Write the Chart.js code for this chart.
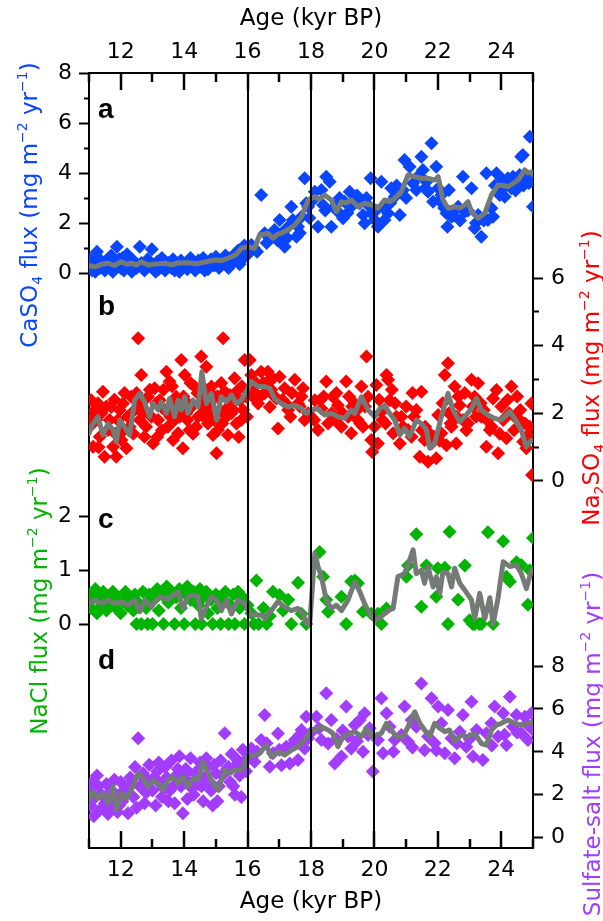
<!DOCTYPE html>
<html>
<head>
<meta charset="utf-8">
<script src="https://cdn.jsdelivr.net/npm/chart.js@4.4.1/dist/chart.umd.min.js"></script>
<style>
html,body{margin:0;padding:0;background:#fff;}
#wrap{width:603px;height:921px;}
</style>
</head>
<body>
<div id="wrap"><canvas id="c" width="603" height="921"></canvas></div>
<script>
// ---------------- data (age kyr BP, flux) ----------------
const ageTicks = [11,12,13,14,15,16,17,18,19,20,21,22,23,24,25];
const ageLabels = [12,14,16,18,20,22,24];
const eventAges = [16,18,20];

const caso4Ticks = [0,1,2,3,4,5,6,7,8];
const caso4Labels = [0,2,4,6,8];
const na2so4Ticks = [0,1,2,3,4,5,6];
const na2so4Labels = [0,2,4,6];
const naclTicks = [0,1,2];
const naclLabels = [0,1,2];
const sulfateTicks = [0,2,4,6,8];
const sulfateLabels = [0,2,4,6,8];

const caso4Flux = [[11.0,0.3],[11.05,0.55],[11.08,0.2],[11.1,0.1],[11.15,0.4],[11.2,0.05],[11.22,0.45],[11.25,0.85],[11.3,0.6],[11.35,0.2],[11.4,0.35],[11.45,0.3],[11.5,0.1],[11.55,0.5],[11.6,0.25],[11.65,0.45],[11.7,0.7],[11.75,0.05],[11.88,1.05],[11.9,0.4],[11.95,0.55],[12.0,0.2],[12.05,0.6],[12.1,0.1],[12.15,0.3],[12.2,0.75],[12.3,0.3],[12.35,0.05],[12.4,0.5],[12.45,0.35],[12.5,0.2],[12.6,1.05],[12.65,0.4],[12.7,0.25],[12.75,0.1],[12.85,0.55],[12.95,0.4],[12.98,0.95],[13.0,0.25],[13.1,0.05],[13.15,0.45],[13.2,0.15],[13.25,0.3],[13.3,0.6],[13.4,0.1],[13.45,0.3],[13.5,0.4],[13.6,0.2],[13.65,0.55],[13.7,0.1],[13.75,0.35],[13.85,0.05],[13.9,0.5],[13.95,0.2],[14.0,0.3],[14.1,0.15],[14.15,0.4],[14.2,0.6],[14.25,0.35],[14.35,0.1],[14.4,0.25],[14.45,0.5],[14.5,0.25],[14.6,0.6],[14.65,0.1],[14.7,0.4],[14.75,0.15],[14.85,0.55],[14.9,0.45],[14.95,0.3],[15.0,0.65],[15.1,0.2],[15.15,0.4],[15.2,0.5],[15.3,0.7],[15.35,0.3],[15.4,0.2],[15.45,0.6],[15.55,0.45],[15.6,0.75],[15.65,0.55],[15.7,0.9],[15.75,0.35],[15.8,0.5],[15.85,0.8],[15.9,1.1],[15.95,0.7],[16.0,0.9],
[16.05,0.8],[16.12,1.12],[16.2,1.0],[16.3,0.85],[16.43,3.12],[16.54,1.59],[16.6,1.2],[16.7,1.45],[16.85,1.72],[16.95,1.3],[17.01,2.12],[17.07,1.59],[17.17,1.05],[17.25,1.4],[17.28,1.85],[17.38,2.65],[17.43,2.12],[17.54,1.45],[17.59,1.85],[17.65,1.6],[17.7,2.25],[17.8,3.79],[17.85,2.79],[17.91,2.65],[17.95,2.2],[18.05,2.9],[18.12,3.25],[18.22,1.85],[18.33,3.32],[18.38,2.72],[18.45,2.5],[18.48,3.85],[18.59,3.65],[18.64,1.85],[18.75,2.65],[18.85,2.45],[18.9,3.0],[19.01,2.19],[19.06,2.85],[19.15,2.4],[19.22,3.25],[19.27,2.65],[19.38,2.92],[19.45,3.1],[19.54,2.79],[19.64,2.32],[19.69,1.99],[19.75,3.0],[19.8,2.72],[19.88,3.79],[19.9,2.39],[20.01,2.12],[20.05,2.5],[20.11,1.85],[20.22,3.65],[20.27,2.65],[20.32,2.12],[20.43,2.39],[20.5,2.8],[20.53,3.39],[20.64,3.05],[20.7,3.5],[20.8,2.32],[20.9,3.32],[20.95,4.52],[21.0,3.0],[21.11,4.25],[21.22,3.59],[21.32,3.32],[21.4,3.9],[21.48,4.65],[21.53,4.12],[21.6,3.4],[21.64,3.65],[21.69,3.25],[21.8,5.19],[21.85,2.85],[21.95,4.25],[22.01,3.39],[22.05,2.9],[22.11,3.12],[22.2,2.6],[22.27,2.39],[22.3,1.85],[22.35,3.32],[22.43,2.25],[22.5,2.3],[22.64,2.65],[22.7,2.1],[22.79,3.85],[22.85,2.45],[22.95,2.5],[23.06,3.39],[23.16,1.79],[23.2,2.0],[23.27,2.32],[23.37,1.45],[23.45,2.1],[23.53,3.99],[23.58,2.12],[23.69,2.59],[23.74,2.25],[23.8,3.5],[23.85,3.99],[23.95,3.12],[24.0,3.3],[24.06,3.72],[24.11,3.05],[24.21,3.79],[24.25,3.6],[24.32,3.39],[24.37,3.85],[24.45,3.3],[24.48,3.59],[24.58,3.92],[24.63,4.65],[24.68,4.72],[24.7,3.5],[24.74,3.72],[24.84,3.85],[24.87,3.6],[24.9,5.45],[24.95,3.79],[25.0,2.65]];

const caso4Mean = [[11.0,0.29],[11.2,0.25],[11.4,0.35],[11.6,0.39],[11.8,0.3],[12.02,0.45],[12.2,0.35],[12.33,0.39],[12.5,0.32],[12.65,0.45],[12.86,0.32],[13.1,0.36],[13.39,0.39],[13.6,0.33],[13.8,0.4],[14.12,0.41],[14.4,0.37],[14.7,0.45],[14.96,0.52],[15.2,0.5],[15.49,0.65],[15.65,0.75],[15.8,0.99],[16.01,1.05],[16.22,0.99],[16.38,1.52],[16.5,1.55],[16.64,1.59],[16.8,1.39],[16.95,1.55],[17.07,1.59],[17.3,1.75],[17.49,1.92],[17.7,2.25],[17.91,2.92],[18.12,3.05],[18.25,2.95],[18.43,3.12],[18.64,2.92],[18.8,2.45],[18.96,2.85],[19.1,2.8],[19.27,2.92],[19.48,2.65],[19.69,2.79],[19.9,2.72],[20.11,2.59],[20.32,2.92],[20.5,2.85],[20.64,2.99],[20.85,3.25],[21.06,3.92],[21.27,3.85],[21.48,3.79],[21.7,3.78],[21.9,3.72],[22.01,3.85],[22.16,2.92],[22.32,2.59],[22.53,2.65],[22.7,2.6],[22.85,2.72],[22.95,2.85],[23.06,2.45],[23.27,2.19],[23.48,2.39],[23.69,3.12],[23.9,3.52],[24.05,3.5],[24.21,3.45],[24.4,3.6],[24.53,3.72],[24.74,4.12],[24.85,4.0],[24.95,4.05],[25.0,3.95]];

const na2so4Flux = [[11.02,1.6],[11.07,2.39],[11.1,1.9],[11.13,1.01],[11.18,2.10],[11.23,1.80],[11.28,2.3],[11.3,1.0],[11.34,1.31],[11.39,2.00],[11.44,2.64],[11.49,0.72],[11.55,2.2],[11.60,1.51],[11.65,1.80],[11.70,2.19],[11.76,1.01],[11.8,2.4],[11.83,1.4],[11.86,0.72],[11.91,1.80],[11.97,2.10],[12.02,1.21],[12.07,2.29],[12.1,1.5],[12.12,2.6],[12.18,0.97],[12.22,1.9],[12.28,1.60],[12.33,2.49],[12.4,1.4],[12.44,2.10],[12.5,2.6],[12.55,4.22],[12.60,1.80],[12.62,2.3],[12.65,3.13],[12.70,2.00],[12.75,1.31],[12.8,1.6],[12.86,2.49],[12.92,2.7],[12.97,1.90],[13.02,1.11],[13.07,2.74],[13.12,2.3],[13.15,1.3],[13.18,1.80],[13.23,2.39],[13.28,2.19],[13.3,1.5],[13.35,2.7],[13.39,2.10],[13.44,3.23],[13.49,1.60],[13.54,2.94],[13.57,1.9],[13.60,2.24],[13.62,2.8],[13.65,1.21],[13.70,1.80],[13.75,2.49],[13.78,2.2],[13.81,1.41],[13.86,1.90],[13.91,3.58],[13.96,0.97],[13.98,2.5],[14.02,3.13],[14.07,2.00],[14.1,1.8],[14.12,2.29],[14.17,1.51],[14.2,2.9],[14.23,2.19],[14.28,1.4],[14.33,2.79],[14.38,1.60],[14.42,2.6],[14.44,1.90],[14.49,2.29],[14.54,3.68],[14.59,2.49],[14.62,1.9],[14.65,2.10],[14.68,2.7],[14.70,3.38],[14.75,1.70],[14.81,2.29],[14.85,2.0],[14.86,2.79],[14.91,1.36],[14.95,1.8],[14.96,2.49],[15.02,0.82],[15.05,2.5],[15.07,1.51],[15.12,2.10],[15.17,2.9],[15.2,1.7],[15.23,4.22],[15.28,2.64],[15.33,1.90],[15.38,1.36],[15.4,2.2],[15.44,2.54],[15.49,2.00],[15.55,2.1],[15.59,3.04],[15.62,2.4],[15.65,1.70],[15.70,2.69],[15.72,1.3],[15.75,2.39],[15.80,1.80],[15.82,2.8],[15.86,2.10],[15.91,3.58],[15.96,2.49],[15.98,1.9],
[16.07,3.58],[16.1,2.7],[16.12,3.13],[16.17,2.49],[16.25,2.6],[16.28,2.89],[16.33,2.29],[16.4,2.5],[16.43,3.23],[16.5,2.9],[16.54,2.59],[16.6,2.9],[16.64,3.23],[16.70,2.19],[16.75,2.7],[16.80,3.03],[16.85,2.5],[16.91,2.44],[16.96,1.55],[17.01,3.08],[17.1,2.4],[17.17,2.74],[17.2,2.3],[17.28,2.10],[17.35,1.9],[17.4,2.6],[17.49,2.99],[17.59,2.29],[17.65,2.2],[17.7,2.5],[17.75,2.74],[17.80,1.80],[17.91,2.00],[18.0,1.9],[18.1,1.8],[18.12,2.39],[18.22,1.51],[18.3,2.4],[18.33,2.14],[18.4,2.5],[18.48,2.94],[18.54,1.70],[18.65,2.0],[18.69,2.49],[18.75,1.80],[18.8,2.6],[18.85,2.24],[18.96,1.60],[19.0,2.0],[19.11,2.94],[19.17,1.90],[19.2,2.5],[19.27,1.41],[19.3,2.2],[19.38,2.29],[19.45,2.1],[19.48,1.80],[19.55,1.7],[19.59,2.79],[19.64,1.60],[19.7,2.2],[19.75,3.68],[19.80,2.49],[19.90,1.21],[19.93,0.86],[20.0,1.6],[20.06,2.84],[20.11,1.11],[20.15,2.4],[20.22,2.05],[20.25,1.8],[20.35,1.7],[20.38,3.13],[20.43,2.99],[20.48,2.39],[20.55,2.7],[20.59,1.41],[20.65,2.3],[20.69,1.90],[20.80,1.11],[20.85,1.9],[20.90,1.60],[21.0,2.2],[21.06,1.51],[21.17,1.31],[21.2,2.6],[21.25,1.9],[21.32,2.10],[21.43,0.72],[21.48,2.64],[21.5,1.5],[21.58,1.21],[21.6,1.6],[21.69,0.57],[21.75,1.4],[21.80,1.11],[21.9,1.3],[21.95,0.67],[22.01,1.95],[22.05,1.2],[22.11,1.41],[22.15,2.3],[22.22,3.13],[22.27,1.06],[22.32,3.48],[22.35,2.0],[22.4,1.7],[22.43,1.60],[22.53,2.79],[22.58,1.11],[22.6,1.9],[22.65,2.5],[22.69,2.24],[22.79,1.80],[22.85,2.6],[22.9,1.5],[22.95,1.70],[23.06,2.99],[23.1,2.2],[23.16,2.49],[23.2,1.9],[23.27,2.89],[23.35,2.3],[23.37,1.90],[23.45,2.1],[23.53,1.01],[23.55,1.8],[23.64,1.51],[23.7,1.6],[23.74,2.44],[23.85,2.69],[23.90,0.82],[23.95,1.4],[24.0,2.2],[24.06,1.80],[24.16,1.26],[24.2,2.4],[24.25,2.0],[24.32,2.79],[24.4,1.5],[24.42,1.90],[24.5,2.5],[24.58,1.80],[24.6,2.1],[24.69,1.16],[24.75,1.7],[24.79,0.97],[24.84,1.36],[24.9,1.6],[24.95,2.29],[24.97,0.18]];

const na2so4Mean = [[11.0,1.41],[11.13,1.70],[11.28,1.90],[11.44,1.36],[11.60,1.70],[11.76,1.51],[11.86,1.16],[11.97,1.80],[12.12,1.60],[12.28,1.36],[12.44,2.39],[12.60,2.59],[12.75,2.34],[12.91,1.90],[13.02,2.29],[13.18,2.10],[13.28,2.34],[13.44,2.00],[13.54,2.44],[13.70,1.90],[13.81,2.39],[13.91,2.10],[14.02,2.49],[14.12,2.00],[14.28,2.39],[14.44,2.19],[14.56,3.23],[14.70,2.29],[14.86,2.59],[15.02,1.80],[15.17,2.49],[15.33,2.34],[15.49,2.54],[15.65,2.29],[15.80,2.39],[15.96,2.64],[16.12,2.94],[16.33,2.79],[16.54,2.79],[16.70,2.74],[16.85,2.44],[17.07,2.29],[17.28,2.19],[17.49,2.24],[17.70,2.14],[17.85,2.00],[18.01,2.10],[18.22,2.14],[18.43,1.95],[18.64,2.00],[18.85,1.90],[19.06,1.85],[19.27,2.10],[19.38,2.00],[19.59,2.49],[19.80,2.10],[20.01,1.90],[20.17,2.14],[20.32,2.24],[20.48,2.00],[20.64,1.80],[20.80,1.36],[20.95,1.56],[21.11,1.31],[21.32,1.80],[21.48,1.70],[21.64,1.51],[21.74,0.97],[21.90,1.11],[22.11,1.90],[22.32,2.59],[22.48,2.10],[22.69,1.75],[22.90,1.95],[23.06,2.14],[23.22,2.44],[23.37,2.10],[23.58,1.95],[23.79,1.85],[24.00,1.80],[24.27,2.05],[24.42,1.85],[24.63,1.51],[24.79,1.01],[24.95,1.21]];

const naclFlux = [[11.0,0.55],[11.05,0.3],[11.1,0.45],[11.2,0.65],[11.25,0.2],[11.3,0.5],[11.4,0.35],[11.45,0.6],[11.55,0.25],[11.6,0.5],[11.7,0.4],[11.75,0.6],[11.85,0.3],[11.9,0.5],[12.0,0.2],[12.05,0.45],[12.15,0.6],[12.2,0.35],[12.3,0.5],[12.4,0.25],[12.45,0.55],[12.5,0.0],[12.55,0.4],[12.65,0.0],[12.7,0.6],[12.8,0.3],[12.85,0.0],[12.9,0.55],[13.0,0.0],[13.05,0.45],[13.15,0.65],[13.2,0.25],[13.3,0.55],[13.35,0.0],[13.45,0.7],[13.5,0.4],[13.6,0.6],[13.7,0.0],[13.75,0.5],[13.85,0.65],[13.9,0.3],[14.0,0.0],[14.05,0.55],[14.1,0.7],[14.2,0.45],[14.3,0.6],[14.35,0.0],[14.45,0.35],[14.5,0.65],[14.55,0.0],[14.6,0.5],[14.7,0.6],[14.75,0.2],[14.85,0.45],[14.9,0.0],[15.0,0.55],[15.05,0.3],[15.15,0.0],[15.25,0.45],[15.3,0.6],[15.4,0.0],[15.45,0.35],[15.55,0.55],[15.6,0.0],[15.7,0.6],[15.75,0.3],[15.85,0.5],[15.9,0.0],[16.0,0.35],
[16.12,0.2],[16.2,0.0],[16.28,0.81],[16.35,0.0],[16.5,0.3],[16.6,0.0],[16.7,0.15],[16.8,0.6],[17.01,0.54],[17.12,0.25],[17.28,0.45],[17.38,0.0],[17.59,0.77],[17.7,0.19],[17.85,0.0],[18.27,1.34],[18.38,0.88],[18.48,0.45],[18.54,0.23],[18.96,0.51],[19.11,0.0],[19.27,0.79],[19.38,0.81],[19.48,0.76],[19.64,0.23],[19.9,0.19],[20.11,0.19],[20.22,0.0],[20.38,0.29],[21.01,0.88],[21.06,1.09],[21.32,1.67],[21.48,0.32],[21.64,1.09],[21.95,0.51],[22.0,1.04],[22.22,1.05],[22.32,0.0],[22.37,1.72],[22.64,0.45],[22.85,1.09],[23.0,0.07],[23.1,0.0],[23.16,0.0],[23.3,0.0],[23.37,0.0],[23.58,1.71],[23.74,0.0],[24.06,1.54],[24.16,0.88],[24.27,0.79],[24.48,1.15],[24.63,1.1],[24.84,0.36],[24.9,1.0],[25.0,1.6]];

const naclMean = [[11.0,0.38],[11.18,0.45],[11.39,0.38],[11.60,0.45],[11.81,0.38],[12.02,0.42],[12.23,0.35],[12.44,0.45],[12.60,0.23],[12.76,0.45],[12.97,0.32],[13.12,0.45],[13.28,0.51],[13.49,0.45],[13.65,0.54],[13.81,0.60],[13.96,0.29],[14.12,0.51],[14.28,0.54],[14.44,0.51],[14.54,0.10],[14.70,0.32],[14.86,0.51],[15.02,0.45],[15.17,0.25],[15.33,0.45],[15.49,0.19],[15.70,0.45],[15.91,0.38],[16.07,0.19],[16.22,0.17],[16.43,0.17],[16.54,0.10],[16.75,0.25],[16.96,0.42],[17.17,0.32],[17.38,0.25],[17.59,0.29],[17.75,0.19],[17.85,0.01],[17.96,0.0],[18.12,1.32],[18.22,1.07],[18.33,0.88],[18.48,0.45],[18.64,0.29],[18.80,0.35],[18.96,0.25],[19.17,0.45],[19.38,0.79],[19.54,0.60],[19.69,0.38],[19.85,0.19],[20.01,0.07],[20.22,0.14],[20.43,0.25],[20.59,0.29],[20.74,0.88],[20.95,0.94],[21.11,1.19],[21.22,1.38],[21.32,0.94],[21.48,1.0],[21.58,0.76],[21.69,1.07],[21.85,0.69],[21.95,0.88],[22.06,0.57],[22.16,0.97],[22.32,0.94],[22.43,0.69],[22.53,1.04],[22.69,0.76],[22.85,0.63],[23.06,0.45],[23.16,0.10],[23.32,0.57],[23.48,0.10],[23.64,0.49],[23.74,0.0],[23.90,0.49],[24.06,1.16],[24.27,1.07],[24.48,1.10],[24.63,0.94],[24.79,0.66],[24.95,1.0]];

const sulfateFlux = [[11.0,2.2],[11.05,1.5],[11.08,1.8],[11.1,2.6],[11.15,1.0],[11.2,1.9],[11.25,2.9],[11.3,2.4],[11.35,1.3],[11.4,2.0],[11.45,1.4],[11.5,1.6],[11.55,2.5],[11.6,1.1],[11.65,1.8],[11.7,2.2],[11.75,1.5],[11.8,2.7],[11.85,2.0],[11.9,1.2],[11.95,1.5],[12.0,2.6],[12.05,1.7],[12.1,2.2],[12.15,2.3],[12.23,1.14],[12.3,2.8],[12.35,2.5],[12.4,1.9],[12.45,3.3],[12.5,1.4],[12.55,4.63],[12.6,2.4],[12.65,2.9],[12.7,3.0],[12.75,1.6],[12.8,2.1],[12.85,2.7],[12.9,3.4],[13.0,2.2],[13.05,2.8],[13.1,1.5],[13.15,3.1],[13.2,3.5],[13.25,2.5],[13.3,1.9],[13.35,2.3],[13.4,3.3],[13.45,2.8],[13.5,1.7],[13.55,2.2],[13.6,3.6],[13.65,2.4],[13.7,1.6],[13.75,2.9],[13.8,3.2],[13.85,3.8],[13.9,2.4],[13.96,1.14],[14.0,2.9],[14.05,3.2],[14.1,1.8],[14.15,2.6],[14.2,3.7],[14.25,2.3],[14.3,2.0],[14.35,3.0],[14.4,3.1],[14.45,2.5],[14.5,3.5],[14.55,2.4],[14.6,1.7],[14.65,2.8],[14.7,3.7],[14.75,3.3],[14.8,2.6],[14.85,2.2],[14.9,1.5],[14.95,3.4],[15.0,3.0],[15.05,1.7],[15.1,2.4],[15.15,3.6],[15.2,2.9],[15.28,4.87],[15.35,3.2],[15.4,3.3],[15.45,2.6],[15.5,3.9],[15.55,2.4],[15.6,2.0],[15.65,3.4],[15.7,3.6],[15.75,2.9],[15.8,1.9],[15.85,4.1],[15.9,3.5],[15.95,3.1],[16.0,3.7],
[16.12,4.16],[16.22,3.54],[16.3,4.0],[16.43,4.55],[16.54,5.72],[16.6,4.4],[16.70,3.31],[16.80,3.93],[16.96,4.86],[17.0,4.1],[17.07,3.38],[17.22,4.24],[17.33,3.46],[17.4,4.3],[17.49,4.55],[17.59,3.62],[17.65,4.8],[17.70,5.02],[17.80,4.16],[17.85,5.64],[17.91,4.63],[18.0,4.9],[18.17,5.64],[18.25,5.1],[18.33,4.55],[18.48,6.73],[18.54,4.39],[18.64,5.48],[18.75,3.46],[18.8,4.6],[18.96,3.78],[19.0,5.0],[19.11,6.11],[19.17,4.71],[19.27,4.16],[19.38,5.25],[19.45,4.5],[19.54,5.48],[19.64,4.01],[19.69,5.80],[19.80,4.79],[19.85,5.1],[19.95,3.08],[20.11,4.55],[20.22,6.50],[20.27,3.93],[20.38,5.80],[20.48,5.17],[20.6,4.0],[20.64,4.55],[20.85,4.79],[20.95,6.11],[21.06,4.47],[21.17,5.48],[21.2,4.2],[21.32,5.17],[21.48,7.19],[21.58,4.08],[21.69,4.71],[21.80,6.50],[21.9,4.4],[21.95,4.08],[22.01,6.11],[22.11,5.33],[22.22,3.93],[22.32,5.95],[22.43,4.63],[22.53,3.70],[22.6,4.4],[22.69,4.94],[22.79,5.72],[22.90,4.24],[23.0,4.6],[23.06,6.34],[23.11,3.78],[23.22,5.02],[23.42,3.62],[23.53,4.87],[23.69,5.33],[23.7,4.3],[23.79,6.11],[23.90,4.71],[24.06,5.80],[24.1,4.8],[24.16,4.32],[24.27,6.57],[24.37,5.17],[24.48,5.72],[24.5,4.9],[24.63,4.87],[24.74,5.64],[24.8,5.3],[24.84,4.55],[24.95,5.80],[25.0,5.02]];

const sulfateMean = [[11.0,1.75],[11.13,2.14],[11.28,1.83],[11.44,2.07],[11.60,1.60],[11.76,2.38],[11.86,1.29],[12.02,2.07],[12.18,1.83],[12.33,2.22],[12.55,3.0],[12.70,2.77],[12.86,2.38],[13.02,2.69],[13.18,2.53],[13.33,2.22],[13.49,2.69],[13.65,2.84],[13.81,2.53],[13.96,2.84],[14.12,2.38],[14.28,2.77],[14.44,2.69],[14.59,3.54],[14.75,3.0],[14.91,2.53],[15.07,2.22],[15.28,3.15],[15.44,3.0],[15.59,3.15],[15.80,3.15],[16.01,3.77],[16.22,3.85],[16.38,3.93],[16.59,4.32],[16.75,3.77],[16.96,4.00],[17.17,3.85],[17.38,4.08],[17.59,4.24],[17.80,4.55],[17.96,4.94],[18.12,5.02],[18.33,5.17],[18.54,5.02],[18.69,4.86],[18.85,4.24],[19.01,4.71],[19.22,4.86],[19.38,4.94],[19.59,4.71],[19.75,5.10],[19.90,4.71],[20.06,4.79],[20.22,4.86],[20.38,5.33],[20.53,5.02],[20.69,4.71],[20.90,4.71],[21.06,5.17],[21.27,5.87],[21.43,5.33],[21.58,5.02],[21.74,4.71],[21.90,5.33],[22.06,5.10],[22.22,4.94],[22.37,5.02],[22.53,4.47],[22.74,4.79],[22.95,4.71],[23.16,4.86],[23.37,4.39],[23.53,4.32],[23.69,5.02],[23.85,5.25],[24.00,5.33],[24.21,5.48],[24.42,5.33],[24.63,5.25],[24.84,5.33],[25.0,5.40]];

// ---------------- style ----------------
const FONT = '"DejaVu Sans", "Noto Sans", sans-serif';
const BLUE = '#0a46ff', RED = '#ff0000', GREEN = '#00b400', PURPLE = '#a23cff', GRAY = '#747a75';

const xy = pairs => pairs.map(([x, y]) => ({x, y}));

const panels = [
  {pts: caso4Flux, mean: caso4Mean, color: BLUE, axis: 'yA'},
  {pts: na2so4Flux, mean: na2so4Mean, color: RED, axis: 'yB'},
  {pts: naclFlux, mean: naclMean, color: GREEN, axis: 'yC'},
  {pts: sulfateFlux, mean: sulfateMean, color: PURPLE, axis: 'yD'}
];

const datasets = [];
panels.forEach(p => {
  datasets.push({type: 'line', data: xy(p.mean), xAxisID: 'x', yAxisID: p.axis,
    borderColor: GRAY, borderWidth: 5, pointRadius: 0, showLine: true, fill: false,
    tension: 0, borderJoinStyle: 'round', borderCapStyle: 'round', order: 0});
  datasets.push({type: 'scatter', data: xy(p.pts), xAxisID: 'x', yAxisID: p.axis,
    pointStyle: 'rectRot', pointRadius: 7, backgroundColor: p.color, borderWidth: 0, order: 1});
});

function xScale(pos) {
  const top = pos === 'top';
  return {
    type: 'linear', position: pos, min: ageTicks[0], max: ageTicks[ageTicks.length - 1],
    afterBuildTicks: s => { s.ticks = ageTicks.map(v => ({value: v})); },
    afterFit: s => { s.height = 73; },
    ticks: {autoSkip: false, maxRotation: 0, minRotation: 0, padding: top ? 8 : 9, color: '#000',
      font: {family: FONT, size: 22}, callback: v => ageLabels.includes(v) ? String(v) : ''},
    grid: {display: true, drawOnChartArea: top, z: top ? 1 : -1, drawTicks: false, tickLength: 0,
      color: c => (top && c.tick && eventAges.includes(c.tick.value)) ? '#000' : 'rgba(0,0,0,0)',
      lineWidth: 2},
    border: {display: true, color: '#000', width: 2, z: top ? 1 : 0},
    title: {display: true, text: 'Age (kyr BP)', color: '#000', font: {family: FONT, size: 23},
      padding: top ? {top: 5, bottom: 0} : {top: 0, bottom: 5}}
  };
}

function yScale(pos, weight, stackWeight, min, max, tickArr, labelArr) {
  const left = pos === 'left';
  return {
    type: 'linear', position: pos, stack: left ? 'L' : 'R', stackWeight, weight, min, max,
    afterBuildTicks: s => { s.ticks = tickArr.map(v => ({value: v})); },
    afterFit: s => { s.width = left ? 89 : 70; },
    ticks: {autoSkip: false, padding: left ? 7 : 8, color: '#000', font: {family: FONT, size: 22},
      callback: v => labelArr.includes(v) ? String(v) : ''},
    grid: {drawOnChartArea: false, drawTicks: true, tickLength: 10, tickWidth: 2, tickColor: '#000',
      tickBorderDash: c => (c.tick && !labelArr.includes(c.tick.value)) ? (left ? [0, 5, 5, 100] : [5, 100]) : []},
    border: {display: true, color: '#000', width: 2},
    title: {display: false}
  };
}

// inward age ticks on the top and bottom frame, placed with the x scale
const ageTickMarks = {
  id: 'ageTickMarks',
  afterDraw(chart) {
    const {ctx, chartArea: ca} = chart;
    const s = chart.scales.x;
    ctx.save();
    ctx.setLineDash([]);
    ctx.globalAlpha = 1;
    ctx.strokeStyle = '#000';
    ctx.lineWidth = 2.5;
    ctx.lineCap = 'butt';
    ageTicks.forEach(v => {
      const px = Math.round(s.getPixelForValue(v));
      const len = ageLabels.includes(v) ? 17 : 9;
      ctx.beginPath();
      ctx.moveTo(px, ca.top);
      ctx.lineTo(px, ca.top + len);
      ctx.stroke();
      ctx.beginPath();
      ctx.moveTo(px, ca.bottom);
      ctx.lineTo(px, ca.bottom - len);
      ctx.stroke();
    });
    ctx.restore();
  }
};

function richTitle(ctx, parts, baseX, cy, color) {
  const big = `23px ${FONT}`, small = `14px ${FONT}`;
  ctx.save();
  ctx.fillStyle = color;
  ctx.textBaseline = 'alphabetic';
  ctx.textAlign = 'left';
  let total = 0;
  parts.forEach(p => { ctx.font = p.s ? small : big; total += ctx.measureText(p.t).width; });
  ctx.translate(baseX, cy);
  ctx.rotate(-Math.PI / 2);
  let x = -total / 2;
  parts.forEach(p => {
    ctx.font = p.s ? small : big;
    const dy = p.s === 'sub' ? 5 : (p.s === 'sup' ? -10 : 0);
    ctx.fillText(p.t, x, dy);
    x += ctx.measureText(p.t).width;
  });
  ctx.restore();
}

const unitTail = [{t: ' flux (mg m'}, {t: '\u22122', s: 'sup'}, {t: ' yr'}, {t: '\u22121', s: 'sup'}, {t: ')'}];
const titleA = [{t: 'CaSO'}, {t: '4', s: 'sub'}, ...unitTail];
const titleB = [{t: 'Na'}, {t: '2', s: 'sub'}, {t: 'SO'}, {t: '4', s: 'sub'}, ...unitTail];
const titleC = [{t: 'NaCl'}, ...unitTail];
const titleD = [{t: 'Sulfate-salt'}, ...unitTail];

const annotate = {
  id: 'annotate',
  afterDraw(chart) {
    const {ctx, chartArea: ca} = chart;
    richTitle(ctx, titleA, ca.left - 52, ca.top + 132, BLUE);
    richTitle(ctx, titleB, ca.right + 66, ca.top + 305, RED);
    richTitle(ctx, titleC, ca.left - 42, ca.top + 528, GREEN);
    richTitle(ctx, titleD, ca.right + 67, ca.top + 671, PURPLE);
    ctx.save();
    ctx.fillStyle = '#000';
    ctx.font = 'bold 28px "Liberation Sans", Arial, sans-serif';
    ctx.textAlign = 'left';
    ctx.textBaseline = 'alphabetic';
    ctx.fillText('a', ca.left + 9, ca.top + 45);
    ctx.fillText('b', ca.left + 9, ca.top + 242);
    ctx.fillText('c', ca.left + 9, ca.top + 455);
    ctx.fillText('d', ca.left + 9, ca.top + 596);
    ctx.restore();
  }
};

new Chart(document.getElementById('c'), {
  type: 'scatter',
  data: {datasets},
  options: {
    responsive: false,
    devicePixelRatio: 1,
    animation: false,
    events: [],
    layout: {padding: 0},
    plugins: {legend: {display: false}, tooltip: {enabled: false}, title: {display: false}},
    scales: {
      x: xScale('bottom'),
      x2: xScale('top'),
      yA: yScale('left', 2, 1, -7.5, 8, caso4Ticks, caso4Labels),
      yC: yScale('left', 1, 1, -4.171, 3.045, naclTicks, naclLabels),
      yB: yScale('right', 1, 497, -2.631, 12.06, na2so4Ticks, na2so4Labels),
      yD: yScale('right', 2, 278, -0.48, 12.474, sulfateTicks, sulfateLabels)
    }
  },
  plugins: [annotate, ageTickMarks]
});
</script>
</body>
</html>
